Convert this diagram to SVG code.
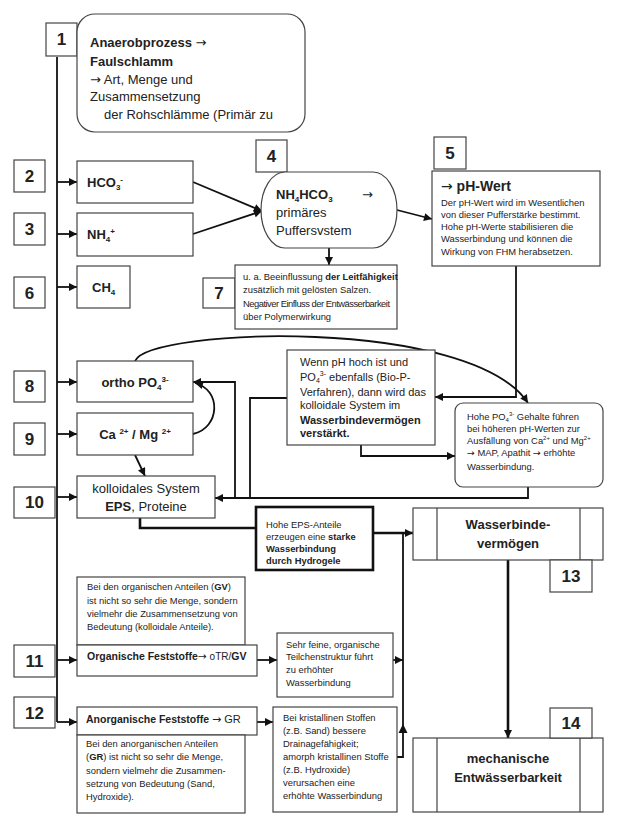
<svg xmlns="http://www.w3.org/2000/svg" width="619" height="832" viewBox="0 0 619 832">
<style>
.bx{fill:#fff;stroke:#444;stroke-width:1.2}
.tk{fill:#fff;stroke:#111;stroke-width:2.6}
.ln{fill:none;stroke:#111;stroke-width:1.8}
.th{fill:none;stroke:#111;stroke-width:2.6}
text{font-family:"Liberation Sans",Arial,sans-serif;fill:#222}
.ar{font-family:"DejaVu Sans",sans-serif}
.num{font-size:17px;font-weight:bold;text-anchor:middle}
.b13{font-size:13px;font-weight:bold}
.n13{font-size:13px}
.s{font-size:9.4px}
.m{font-size:11px}
.c{text-anchor:middle}
.bold{font-weight:bold}
</style>
<defs>
<marker id="a" viewBox="0 0 10 10" refX="10" refY="5" markerWidth="9" markerHeight="8" markerUnits="userSpaceOnUse" orient="auto">
<path d="M0,0 L10,5 L0,10 z" fill="#111"/>
</marker>
</defs>
<rect width="619" height="832" fill="#fff"/>

<g id="connectors">
<path class="ln" d="M57,57 V722"/>
<path class="ln" d="M57,182 H77" marker-end="url(#a)"/>
<path class="ln" d="M57,234 H77" marker-end="url(#a)"/>
<path class="ln" d="M57,287 H77" marker-end="url(#a)"/>
<path class="ln" d="M57,382 H77" marker-end="url(#a)"/>
<path class="ln" d="M57,434 H77" marker-end="url(#a)"/>
<path class="ln" d="M57,497 H77" marker-end="url(#a)"/>
<path class="ln" d="M57,660 H77" marker-end="url(#a)"/>
<path class="ln" d="M57,722 H77" marker-end="url(#a)"/>
<path class="ln" d="M193,182 L262,211" marker-end="url(#a)"/>
<path class="ln" d="M193,234 L262,211" marker-end="url(#a)"/>
<path class="ln" d="M329,248 V265" marker-end="url(#a)"/>
<path class="ln" d="M397,210 L432,219" marker-end="url(#a)"/>
<path class="ln" d="M516,266 V397 H435" marker-end="url(#a)"/>
<path class="ln" d="M361,445 V456 H455" marker-end="url(#a)"/>
<path class="ln" d="M135,361 C150,328 470,316 528,403" marker-end="url(#a)"/>
<path class="ln" d="M528,487 V498 H215" marker-end="url(#a)"/>
<path class="ln" d="M235,498 V382 H193" marker-end="url(#a)"/>
<path class="ln" d="M287,398 H250 V498"/>
<path class="ln" d="M193,434 C220,428 222,390 195,383" marker-end="url(#a)"/>
<path class="ln" d="M135,455 L145,476" marker-end="url(#a)"/>
<path class="th" d="M140,518 V528 H256"/>
<path class="th" d="M373,533 H413" marker-end="url(#a)"/>
<path class="ln" d="M397,757 H403 V534"/>
<path d="M403,724 L407.5,733 L398.5,733 z" fill="#111"/>
<path class="ln" d="M393,660 H403" marker-end="url(#a)"/>
<path class="ln" d="M257,660 H277" marker-end="url(#a)"/>
<path class="ln" d="M257,722 H273" marker-end="url(#a)"/>
<path class="th" d="M508,560 V738" marker-end="url(#a)"/>
</g>

<g id="n1">
<rect class="bx" x="46" y="23" width="31" height="33"/>
<text class="num" x="61.5" y="45">1</text>
<rect class="bx" x="77" y="14" width="228" height="118" rx="18"/>
<text class="b13" x="90" y="47">Anaerobprozess <tspan class="ar" font-weight="normal">→</tspan></text>
<text class="b13" x="90" y="66">Faulschlamm</text>
<text class="n13" x="90" y="84"><tspan class="ar">→</tspan> Art, Menge und</text>
<text class="n13" x="90" y="101">Zusammensetzung</text>
<text class="n13" x="104" y="119">der Rohschlämme (Primär zu</text>
</g>

<g id="n2">
<rect class="bx" x="14" y="160" width="31" height="32"/>
<text class="num" x="29.5" y="182">2</text>
<rect class="bx" x="77" y="161" width="116" height="42"/>
<text class="b13" x="87" y="187">HCO<tspan font-size="8" dy="3">3</tspan><tspan font-size="8" dy="-8">-</tspan></text>
</g>

<g id="n3">
<rect class="bx" x="14" y="213" width="31" height="32"/>
<text class="num" x="29.5" y="235">3</text>
<rect class="bx" x="77" y="213" width="116" height="43"/>
<text class="b13" x="87" y="239">NH<tspan font-size="8" dy="3">4</tspan><tspan font-size="8" dy="-8">+</tspan></text>
</g>

<g id="n6">
<rect class="bx" x="14" y="277" width="31" height="31"/>
<text class="num" x="29.5" y="299">6</text>
<rect class="bx" x="77" y="266" width="53" height="42"/>
<text class="b13" x="92" y="292">CH<tspan font-size="8" dy="3">4</tspan></text>
</g>

<g id="n4">
<rect class="bx" x="256" y="140" width="31" height="32"/>
<text class="num" x="271.5" y="162">4</text>
<rect class="bx" x="261" y="172" width="136" height="76" rx="24" ry="38"/>
<text class="b13" x="276" y="199">NH<tspan font-size="8" dy="3">4</tspan><tspan dy="-3">HCO</tspan><tspan font-size="8" dy="3">3</tspan></text>
<text class="n13 ar" x="362" y="199">→</text>
<text class="n13" x="276" y="217">primäres</text>
<text class="n13" x="276" y="235">Puffersvstem</text>
</g>

<g id="n7">
<rect class="bx" x="203" y="278" width="32" height="30"/>
<text class="num" x="219" y="299">7</text>
<rect class="bx" x="235" y="265" width="162" height="64"/>
<text class="s" x="243" y="280">u. a. Beeinflussung <tspan class="bold">der Leitfähigkeit</tspan></text>
<text class="s" x="243" y="293">zusätzlich mit gelösten Salzen.</text>
<text class="s" x="243" y="307" textLength="147">Negativer Einfluss der Entwässerbarkeit</text>
<text class="s" x="243" y="320">über Polymerwirkung</text>
</g>

<g id="n5">
<rect class="bx" x="434" y="137" width="32" height="32"/>
<text class="num" x="450" y="159">5</text>
<rect class="bx" x="432" y="171" width="168" height="95"/>
<text x="441" y="191" font-size="14" font-weight="bold"><tspan class="ar" font-weight="normal">→</tspan> pH-Wert</text>
<text class="s" x="441" y="206">Der pH-Wert wird im Wesentlichen</text>
<text class="s" x="441" y="218">von dieser Pufferstärke bestimmt.</text>
<text class="s" x="441" y="230">Hohe pH-Werte stabilisieren die</text>
<text class="s" x="441" y="242">Wasserbindung und können die</text>
<text class="s" x="441" y="255">Wirkung von FHM herabsetzen.</text>
</g>

<g id="n8">
<rect class="bx" x="14" y="371" width="31" height="31"/>
<text class="num" x="29.5" y="392">8</text>
<rect class="bx" x="77" y="361" width="116" height="41"/>
<text class="b13 c" x="135" y="387">ortho PO<tspan font-size="8" dy="3">4</tspan><tspan font-size="8" dy="-8">3-</tspan></text>
</g>

<g id="n9">
<rect class="bx" x="14" y="423" width="31" height="32"/>
<text class="num" x="29.5" y="445">9</text>
<rect class="bx" x="77" y="413" width="116" height="42"/>
<text class="b13 c" x="135" y="439">Ca <tspan font-size="8" dy="-5">2+</tspan><tspan dy="5"> / Mg </tspan><tspan font-size="8" dy="-5">2+</tspan></text>
</g>

<g id="n10">
<rect class="bx" x="14" y="487" width="41" height="31"/>
<text class="num" x="34.5" y="508">10</text>
<rect class="bx" x="77" y="476" width="138" height="42"/>
<text class="n13 c" x="146" y="493">kolloidales System</text>
<text class="n13 c" x="146" y="511"><tspan class="bold">EPS</tspan>, Proteine</text>
</g>

<g id="nWenn">
<rect class="bx" x="287" y="350" width="148" height="95"/>
<text class="m" x="300" y="366">Wenn pH hoch ist und</text>
<text class="m" x="300" y="381">PO<tspan font-size="7" dy="2">4</tspan><tspan font-size="7" dy="-7">3-</tspan><tspan dy="5"> ebenfalls (Bio-P-</tspan></text>
<text class="m" x="300" y="396">Verfahren), dann wird das</text>
<text class="m" x="300" y="409">kolloidale System im</text>
<text class="m bold" x="300" y="424">Wasserbindevermögen</text>
<text class="m bold" x="300" y="437">verstärkt.</text>
</g>

<g id="nHohePO4">
<rect class="bx" x="455" y="403" width="148" height="84" rx="8"/>
<text class="s" x="467" y="420">Hohe PO<tspan font-size="6" dy="2">4</tspan><tspan font-size="6" dy="-6">3-</tspan><tspan dy="4"> Gehalte führen</tspan></text>
<text class="s" x="467" y="432">bei höheren pH-Werten zur</text>
<text class="s" x="467" y="444">Ausfällung von Ca<tspan font-size="6" dy="-4">2+</tspan><tspan dy="4"> und Mg</tspan><tspan font-size="6" dy="-4">2+</tspan></text>
<text class="s" x="467" y="456"><tspan class="ar">→</tspan> MAP, Apathit <tspan class="ar">→</tspan> erhöhte</text>
<text class="s" x="467" y="470">Wasserbindung.</text>
</g>

<g id="nEPS">
<rect class="tk" x="256" y="507" width="117" height="63"/>
<text class="s" x="266" y="528">Hohe EPS-Anteile</text>
<text class="s" x="266" y="540">erzeugen eine <tspan class="bold">starke</tspan></text>
<text class="s bold" x="266" y="552">Wasserbindung</text>
<text class="s bold" x="266" y="564">durch Hydrogele</text>
</g>

<g id="n13">
<rect class="bx" x="413" y="508" width="190" height="52"/>
<path class="bx" d="M437,508 V560 M580,508 V560"/>
<text class="b13 c" x="508" y="529">Wasserbinde-</text>
<text class="b13 c" x="508" y="548">vermögen</text>
<rect class="bx" x="550" y="560" width="42" height="32"/>
<text class="num" x="571" y="582">13</text>
</g>

<g id="n11">
<rect class="bx" x="14" y="645" width="41" height="32"/>
<text class="num" x="34.5" y="667">11</text>
<rect class="bx" x="77" y="577" width="168" height="68"/>
<text class="s" x="87" y="590">Bei den organischen Anteilen (<tspan class="bold">GV</tspan>)</text>
<text class="s" x="87" y="604">ist nicht so sehr die Menge, sondern</text>
<text class="s" x="87" y="617">vielmehr die Zusammensetzung von</text>
<text class="s" x="87" y="630">Bedeutung (kolloidale Anteile).</text>
<rect class="bx" x="77" y="645" width="180" height="31"/>
<text x="87" y="660" font-size="10.5" font-weight="bold">Organische Feststoffe<tspan class="ar" font-weight="normal">→</tspan> <tspan font-weight="normal" font-size="10">oTR/</tspan>GV</text>
<rect class="bx" x="277" y="633" width="116" height="64"/>
<text class="s" x="286" y="648">Sehr feine, organische</text>
<text class="s" x="286" y="660">Teilchenstruktur führt</text>
<text class="s" x="286" y="673">zu erhöhter</text>
<text class="s" x="286" y="686">Wasserbindung</text>
</g>

<g id="n12">
<rect class="bx" x="14" y="697" width="41" height="31"/>
<text class="num" x="34.5" y="719">12</text>
<rect class="bx" x="77" y="707" width="180" height="28"/>
<text x="86" y="723" font-size="10.5" font-weight="bold">Anorganische Feststoffe <tspan font-weight="normal" font-size="11"><tspan class="ar">→</tspan> GR</tspan></text>
<rect class="bx" x="77" y="735" width="168" height="78"/>
<text class="s" x="86" y="747">Bei den anorganischen Anteilen</text>
<text class="s" x="86" y="760">(<tspan class="bold">GR</tspan>) ist nicht so sehr die Menge,</text>
<text class="s" x="86" y="774">sondern vielmehr die Zusammen-</text>
<text class="s" x="86" y="787">setzung von Bedeutung (Sand,</text>
<text class="s" x="86" y="800">Hydroxide).</text>
<rect class="bx" x="273" y="707" width="124" height="105"/>
<text class="s" x="283" y="721">Bei kristallinen Stoffen</text>
<text class="s" x="283" y="734">(z.B. Sand) bessere</text>
<text class="s" x="283" y="747">Drainagefähigkeit;</text>
<text class="s" x="283" y="760">amorph kristallinen Stoffe</text>
<text class="s" x="283" y="773">(z.B. Hydroxide)</text>
<text class="s" x="283" y="786">verursachen eine</text>
<text class="s" x="283" y="799">erhöhte Wasserbindung</text>
</g>

<g id="n14">
<rect class="bx" x="413" y="738" width="190" height="74"/>
<path class="bx" d="M437,738 V812 M580,738 V812"/>
<text class="b13 c" x="508" y="763">mechanische</text>
<text class="b13 c" x="508" y="782">Entwässerbarkeit</text>
<rect class="bx" x="550" y="708" width="42" height="30"/>
<text class="num" x="571" y="729">14</text>
</g>
</svg>
